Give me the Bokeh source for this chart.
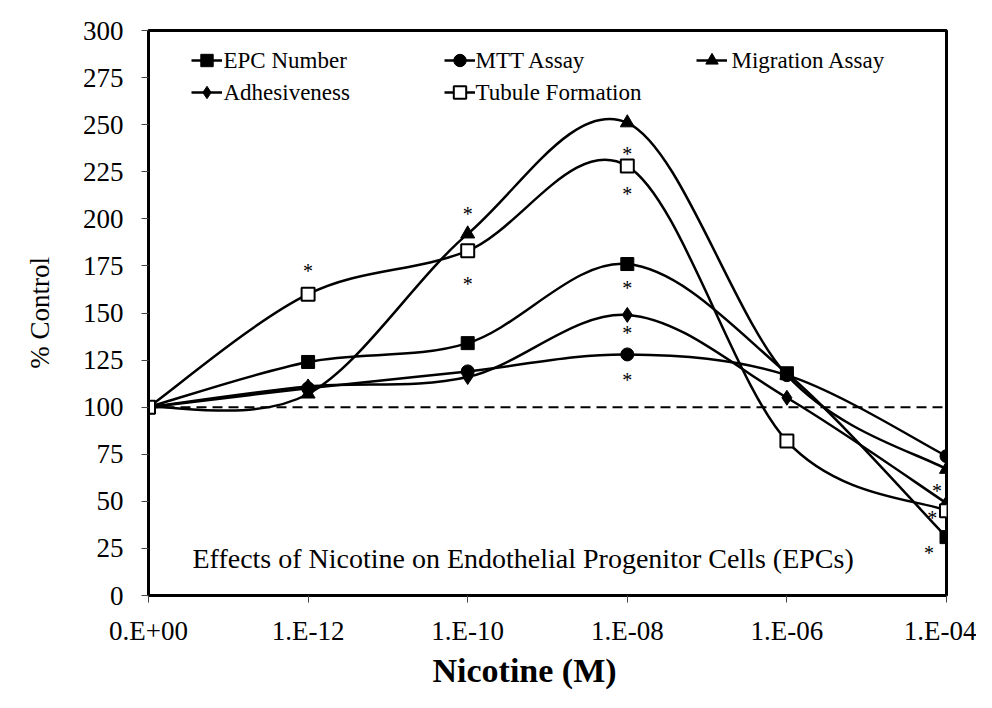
from bokeh.plotting import figure
from bokeh.models import Range1d, FixedTicker, Span, Legend, LegendItem, Label, ColumnDataSource, Title
from bokeh.core.properties import value
from bokeh.embed import file_html
from bokeh.resources import INLINE

# ---- data ----
x_labels = ["0.E+00", "1.E-12", "1.E-10", "1.E-08", "1.E-06", "1.E-04"]
y_ticks = [0, 25, 50, 75, 100, 125, 150, 175, 200, 225, 250, 275, 300]

series_names = ["EPC Number", "MTT Assay", "Migration Assay", "Adhesiveness", "Tubule Formation"]
epc_number = [100, 124, 134, 176, 118, 31]
mtt_assay = [100, 110, 119, 128, 117, 74]
migration_assay = [100, 107, 192, 251, 117, 67]
adhesiveness = [100, 111, 116, 149, 105, 49]
tubule_formation = [100, 160, 183, 228, 82, 45]

control_level = 100

star_x = [1, 2, 2, 3, 3, 3, 3, 3, 4.94, 4.91, 4.89]
star_y = [175, 205, 168, 237, 216, 166, 142, 117, 58, 44, 25]

note_text = "Effects of Nicotine on Endothelial Progenitor Cells (EPCs)"
note_x = 2.347
note_y = 19.6
x_title = "Nicotine (M)"
y_title = "% Control"

FONT = "Liberation Serif"

# ---- figure ----
p = figure(width=976, height=692, output_backend="svg", toolbar_location=None,
           x_range=Range1d(0, len(x_labels) - 1), y_range=Range1d(0, 300),
           min_border_left=148, min_border_right=30, min_border_top=30, min_border_bottom=97)
p.xgrid.visible = False
p.ygrid.visible = False
p.outline_line_color = "black"
p.outline_line_width = 3
p.background_fill_color = "white"
p.border_fill_color = "white"

xpos = list(range(len(x_labels)))
p.xaxis.ticker = FixedTicker(ticks=xpos)
p.xaxis.major_label_overrides = {i: lab for i, lab in enumerate(x_labels)}
p.yaxis.ticker = FixedTicker(ticks=y_ticks)
for ax in (p.xaxis[0], p.yaxis[0]):
    ax.axis_line_width = 3
    ax.axis_line_color = "black"
    ax.major_tick_in = 0
    ax.major_tick_out = 7
    ax.major_tick_line_color = "#444444"
    ax.major_tick_line_width = 1
    ax.minor_tick_line_color = None
    ax.major_label_text_font = FONT
    ax.major_label_text_font_size = "27px"
    ax.major_label_text_color = "black"
    ax.axis_label_text_font = FONT
    ax.axis_label_text_color = "black"
p.xaxis.major_label_standoff = 13
p.yaxis.major_label_standoff = 18
p.yaxis.axis_label = y_title
p.yaxis.axis_label_text_font_style = "normal"
p.yaxis.axis_label_text_font_size = "27px"
p.yaxis.axis_label_standoff = 25

# x-axis title (slightly left of centre in the original)
p.add_layout(Title(text=x_title, align="left", offset=284, standoff=2,
                   text_font=FONT, text_font_size="34px", text_font_style="bold",
                   text_color="black"), "below")

p.add_layout(Span(location=control_level, dimension="width", line_color="black",
                  line_width=2, line_dash="10 6", level="underlay"))


def smooth_segments(xs, ys):
    # Excel-style smoothed line: cubic Bezier segments through the points
    n = len(xs)
    d = dict(x0=[], y0=[], x1=[], y1=[], cx0=[], cy0=[], cx1=[], cy1=[])
    for i in range(n - 1):
        a = i - 1 if i > 0 else i
        b = i + 2 if i + 2 < n else i + 1
        d["x0"].append(xs[i]); d["y0"].append(ys[i])
        d["x1"].append(xs[i + 1]); d["y1"].append(ys[i + 1])
        d["cx0"].append(xs[i] + (xs[i + 1] - xs[a]) / 6)
        d["cy0"].append(ys[i] + (ys[i + 1] - ys[a]) / 6)
        d["cx1"].append(xs[i + 1] - (xs[b] - xs[i]) / 6)
        d["cy1"].append(ys[i + 1] - (ys[b] - ys[i]) / 6)
    return ColumnDataSource(d)


all_series = [epc_number, mtt_assay, migration_assay, adhesiveness, tubule_formation]
markers = ["square", "circle", "triangle", "diamond", "square"]
sizes = [13, 13, 14, 15, 13]
fills = ["black", "black", "black", "black", "white"]
mlw = [1, 1, 1, 1, 2]

line_rs = []
for ys in all_series:
    src = smooth_segments(xpos, ys)
    line_rs.append(p.bezier(x0="x0", y0="y0", x1="x1", y1="y1", cx0="cx0", cy0="cy0",
                            cx1="cx1", cy1="cy1", source=src, line_color="black", line_width=2.5))
mark_rs = []
for ys, m, s, f, lw in zip(all_series, markers, sizes, fills, mlw):
    mark_rs.append(p.scatter(x=xpos, y=ys, marker=m, size=s, fill_color=f,
                             line_color="black", line_width=lw))

p.text(x=star_x, y=star_y, text=["*"] * len(star_x), text_font=value(FONT),
       text_font_size="20px", text_align="center", text_baseline="middle",
       y_offset=5, text_color="black")

p.add_layout(Label(x=note_x, y=note_y, text=note_text, text_align="center",
                   text_baseline="alphabetic", text_font=FONT, text_font_size="28px",
                   text_color="black"))

# legend: label texts as serif Labels first, then glyph swatches from Legend objects
glyph_col_px = [43, 296, 548]
text_col_px = [75, 327, 583]
row_center_px = [535, 503]
for i, name in enumerate(series_names):
    c, r = i % 3, i // 3
    p.add_layout(Label(x=text_col_px[c], y=row_center_px[r], x_units="screen", y_units="screen",
                       text=name, text_align="left", text_baseline="middle",
                       text_font=FONT, text_font_size="23px", text_color="black"))
for i, name in enumerate(series_names):
    c, r = i % 3, i // 3
    leg = Legend(items=[LegendItem(label=" ", renderers=[line_rs[i], mark_rs[i]])],
                 location=(glyph_col_px[c], row_center_px[r] - 16), orientation="horizontal",
                 padding=0, margin=0, spacing=0, glyph_width=31, glyph_height=32,
                 label_standoff=0, label_width=1, label_height=1, label_text_font_size="1px",
                 border_line_alpha=0, background_fill_alpha=0)
    p.add_layout(leg)

open("out.html", "w").write(file_html(p, INLINE))
